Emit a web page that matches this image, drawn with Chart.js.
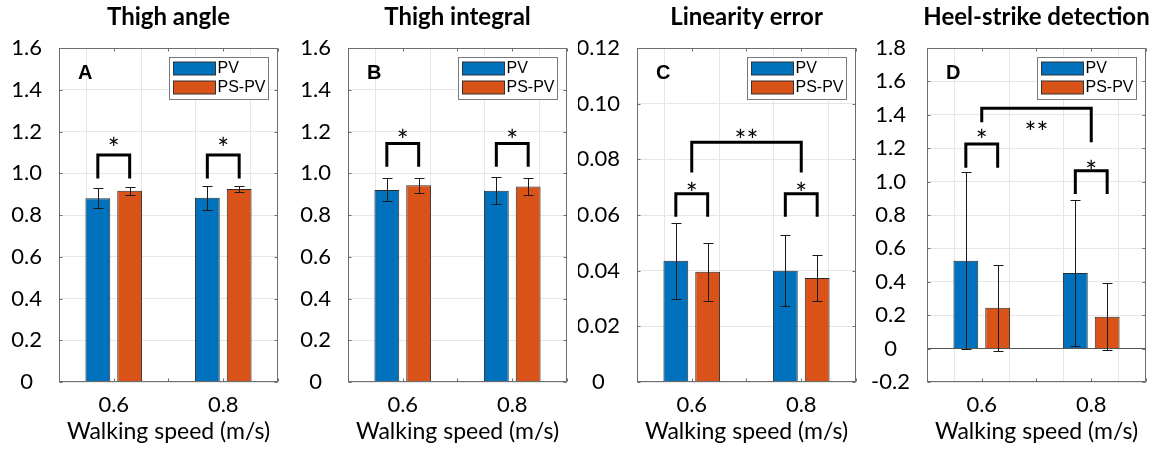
<!DOCTYPE html>
<html>
<head>
<meta charset="utf-8">
<title>Walking speed comparison</title>
<script src="https://cdn.jsdelivr.net/npm/chart.js@4.4.0/dist/chart.umd.min.js"></script>
<style>
  html, body { margin: 0; padding: 0; background: #fff; }
  #wrap { position: relative; width: 1163px; height: 455px; overflow: hidden; }
  #wrap canvas { position: absolute; top: 0; }
</style>
</head>
<body>
<div id="wrap">
  <canvas id="p0" width="290" height="455" style="left:0px"></canvas>
  <canvas id="p1" width="290" height="455" style="left:289px"></canvas>
  <canvas id="p2" width="290" height="455" style="left:578px"></canvas>
  <canvas id="p3" width="290" height="455" style="left:868px"></canvas>
</div>
<script>
const speeds = [0.6, 0.8];
const seriesNames = ['PV', 'PS-PV'];
const seriesColors = ['#0072BD', '#D95319'];

const panelTitles = ['Thigh angle', 'Thigh integral', 'Linearity error', 'Heel-strike detection'];
const panelLetters = ['A', 'B', 'C', 'D'];

// mean and standard deviation, one pair of values (0.6, 0.8 m/s) per panel
const pvMean = [[0.880, 0.883], [0.920, 0.916], [0.0436, 0.0400], [0.526, 0.453]];
const pvSd   = [[0.047, 0.058], [0.055, 0.064], [0.0137, 0.0127], [0.530, 0.436]];
const psMean = [[0.916, 0.925], [0.942, 0.937], [0.0396, 0.0374], [0.245, 0.191]];
const psSd   = [[0.018, 0.015], [0.035, 0.040], [0.0104, 0.0083], [0.258, 0.200]];

// y axis range per panel
const yMin = [0, 0, 0, -0.2];
const yMax = [1.6, 1.6, 0.12, 1.8];
const yStep = [0.2, 0.2, 0.02, 0.2];
const yDigits = [1, 1, 2, 1];

// significance brackets: an end is [dataset, speed index] for one bar,
// or a plain speed value for the centre of a group
const brackets = [
  [
    { from: [0, 0], to: [1, 0], top: 1.087, feet: [0.975, 0.975], mark: '*', markY: 1.156 },
    { from: [0, 1], to: [1, 1], top: 1.087, feet: [0.975, 0.975], mark: '*', markY: 1.156 }
  ],
  [
    { from: [0, 0], to: [1, 0], top: 1.143, feet: [1.031, 1.031], mark: '*', markY: 1.191 },
    { from: [0, 1], to: [1, 1], top: 1.143, feet: [1.031, 1.031], mark: '*', markY: 1.191 }
  ],
  [
    { from: [0, 0], to: [1, 0], top: 0.0676, feet: [0.0594, 0.0594], mark: '*', markY: 0.0703 },
    { from: [0, 1], to: [1, 1], top: 0.0676, feet: [0.0594, 0.0594], mark: '*', markY: 0.0703 },
    { from: 0.6, to: 0.8, top: 0.0861, feet: [0.0753, 0.0753], mark: '**', markY: 0.0894 }
  ],
  [
    { from: [0, 0], to: [1, 0], top: 1.225, feet: [1.083, 1.083], mark: '*', markY: 1.291 },
    { from: [0, 1], to: [1, 1], top: 1.065, feet: [0.926, 0.926], mark: '*', markY: 1.107 },
    { from: 0.6, to: 0.8, top: 1.439, feet: [1.355, 1.235], mark: '**', markY: 1.340 }
  ]
];

const FONT = 'Lato';
const BOX_COLOR = '#6e6e6e';
const GRID_COLOR = '#e6e6e6';

// draw text so that the glyph's visual centre sits on (x, yc)
function centredText(ctx, text, x, yc) {
  const m = ctx.measureText(text);
  ctx.fillText(text, x, yc + (m.actualBoundingBoxAscent - m.actualBoundingBoxDescent) / 2);
}

function panelDecor(p) {
  return {
    id: 'panelDecor',
    afterDatasetsDraw(chart) {
      const { ctx } = chart;
      const x = chart.scales.x, y = chart.scales.y;
      ctx.save();

      // error bars (mean +/- sd)
      ctx.strokeStyle = '#1a1a1a';
      ctx.lineWidth = 1;
      chart.data.datasets.forEach((ds, d) => {
        chart.getDatasetMeta(d).data.forEach((bar, i) => {
          const v = ds.data[i].y;
          const hi = Math.round(y.getPixelForValue(v + ds.errors[i])) + 0.5;
          const lo = Math.round(y.getPixelForValue(v - ds.errors[i])) + 0.5;
          const bx = Math.round(bar.x) + 0.5;
          ctx.beginPath();
          ctx.moveTo(bx, hi); ctx.lineTo(bx, lo);
          ctx.moveTo(bx - 5, hi); ctx.lineTo(bx + 5, hi);
          ctx.moveTo(bx - 5, lo); ctx.lineTo(bx + 5, lo);
          ctx.stroke();
        });
      });

      // significance brackets
      const endX = e => Array.isArray(e)
        ? chart.getDatasetMeta(e[0]).data[e[1]].x
        : x.getPixelForValue(e);
      ctx.strokeStyle = '#000';
      ctx.lineWidth = 3;
      ctx.lineJoin = 'miter';
      ctx.fillStyle = '#000';
      ctx.font = '28px ' + FONT;
      ctx.textAlign = 'center';
      brackets[p].forEach(b => {
        const x1 = endX(b.from), x2 = endX(b.to);
        const top = y.getPixelForValue(b.top);
        ctx.beginPath();
        ctx.moveTo(x1, y.getPixelForValue(b.feet[0]));
        ctx.lineTo(x1, top);
        ctx.lineTo(x2, top);
        ctx.lineTo(x2, y.getPixelForValue(b.feet[1]));
        ctx.stroke();
        centredText(ctx, b.mark, (x1 + x2) / 2, y.getPixelForValue(b.markY));
      });
      ctx.restore();
    },
    afterDraw(chart) {
      const { ctx, chartArea: a } = chart;
      const x = chart.scales.x, y = chart.scales.y;
      ctx.save();

      // axes box with small inward ticks
      ctx.strokeStyle = BOX_COLOR;
      ctx.lineWidth = 1;
      const L = Math.round(a.left) + 0.5, R = Math.round(a.right) - 0.5;
      const T = Math.round(a.top) + 0.5, B = Math.round(a.bottom) - 0.5;
      ctx.strokeRect(L, T, R - L, B - T);
      ctx.beginPath();
      y.ticks.forEach(t => {
        const py = Math.round(y.getPixelForValue(t.value)) + 0.5;
        ctx.moveTo(L, py); ctx.lineTo(L + 3, py);
        ctx.moveTo(R, py); ctx.lineTo(R - 3, py);
      });
      x.ticks.forEach(t => {
        const px = Math.round(x.getPixelForValue(t.value)) + 0.5;
        ctx.moveTo(px, T); ctx.lineTo(px, T + 3);
        ctx.moveTo(px, B); ctx.lineTo(px, B - 3);
      });
      ctx.stroke();

      // legend box in the upper right corner
      const lw = 99, lh = 42;
      const lx = Math.round(a.right) - 10 - lw + 0.5, ly = Math.round(a.top) + 9 + 0.5;
      ctx.fillStyle = '#fff';
      ctx.fillRect(lx, ly, lw, lh);
      ctx.strokeStyle = '#7a7a7a';
      ctx.strokeRect(lx, ly, lw, lh);
      ctx.font = '16px "Liberation Sans"';
      ctx.textAlign = 'left';
      ctx.textBaseline = 'middle';
      chart.data.datasets.forEach((ds, d) => {
        const sy = ly + 4.5 + d * 19;
        ctx.fillStyle = ds.backgroundColor;
        ctx.fillRect(lx + 4, sy, 42, 13);
        ctx.strokeStyle = '#333';
        ctx.strokeRect(lx + 4, sy, 42, 13);
        ctx.fillStyle = '#000';
        ctx.fillText(ds.label, lx + 48, sy + 7);
      });

      // panel letter
      ctx.font = 'bold 20px "Liberation Sans"';
      ctx.textBaseline = 'alphabetic';
      ctx.fillText(panelLetters[p], a.left + 19, a.top + 31);

      // panel title, centred over the axes
      ctx.font = 'bold 24px ' + FONT;
      ctx.textAlign = 'center';
      ctx.fillText(panelTitles[p], (a.left + a.right) / 2, 25);
      ctx.restore();
    }
  };
}

function makePanel(p) {
  const datasets = [
    { label: seriesNames[0], means: pvMean[p], errors: pvSd[p], backgroundColor: seriesColors[0] },
    { label: seriesNames[1], means: psMean[p], errors: psSd[p], backgroundColor: seriesColors[1] }
  ].map(s => ({
    label: s.label,
    data: speeds.map((v, i) => ({ x: v, y: s.means[i] })),
    errors: s.errors,
    backgroundColor: s.backgroundColor,
    borderColor: '#2b2b2b',
    borderWidth: 1,
    barPercentage: 0.78,
    categoryPercentage: 1.163
  }));

  const ctx = document.getElementById('p' + p).getContext('2d');
  return new Chart(ctx, {
    type: 'bar',
    data: { datasets: datasets },
    options: {
      responsive: false,
      animation: false,
      layout: { padding: { left: 0, right: 12, top: 48, bottom: 0 } },
      plugins: {
        legend: { display: false },
        tooltip: { enabled: false }
      },
      scales: {
        x: {
          type: 'linear',
          min: 0.5,
          max: 0.9,
          offset: false,
          afterFit: scale => { scale.height = 73; },
          border: { display: false },
          grid: { color: GRID_COLOR, drawTicks: false },
          ticks: {
            stepSize: 0.1,
            autoSkip: false,
            maxRotation: 0,
            padding: 10,
            color: '#000',
            font: { family: FONT, size: 22 },
            callback: v => (Math.abs(v - 0.6) < 1e-6 || Math.abs(v - 0.8) < 1e-6) ? v.toFixed(1) : ''
          },
          title: {
            display: true,
            text: 'Walking speed (m/s)',
            color: '#000',
            font: { family: FONT, size: 23 },
            padding: { top: 0, bottom: 10 }
          }
        },
        y: {
          min: yMin[p],
          max: yMax[p],
          afterFit: scale => { scale.width = 59; },
          border: { display: false },
          grid: {
            drawTicks: false,
            color: c => (yMin[p] < 0 && Math.abs(c.tick.value) < 1e-9) ? '#555' : GRID_COLOR
          },
          ticks: {
            stepSize: yStep[p],
            padding: 17,
            crossAlign: 'center',
            color: '#000',
            font: { family: FONT, size: 22 },
            callback: v => Math.abs(v) < 1e-9 ? '0' : v.toFixed(yDigits[p])
          }
        }
      }
    },
    plugins: [panelDecor(p)]
  });
}

panelTitles.forEach((t, p) => makePanel(p));
</script>
</body>
</html>
